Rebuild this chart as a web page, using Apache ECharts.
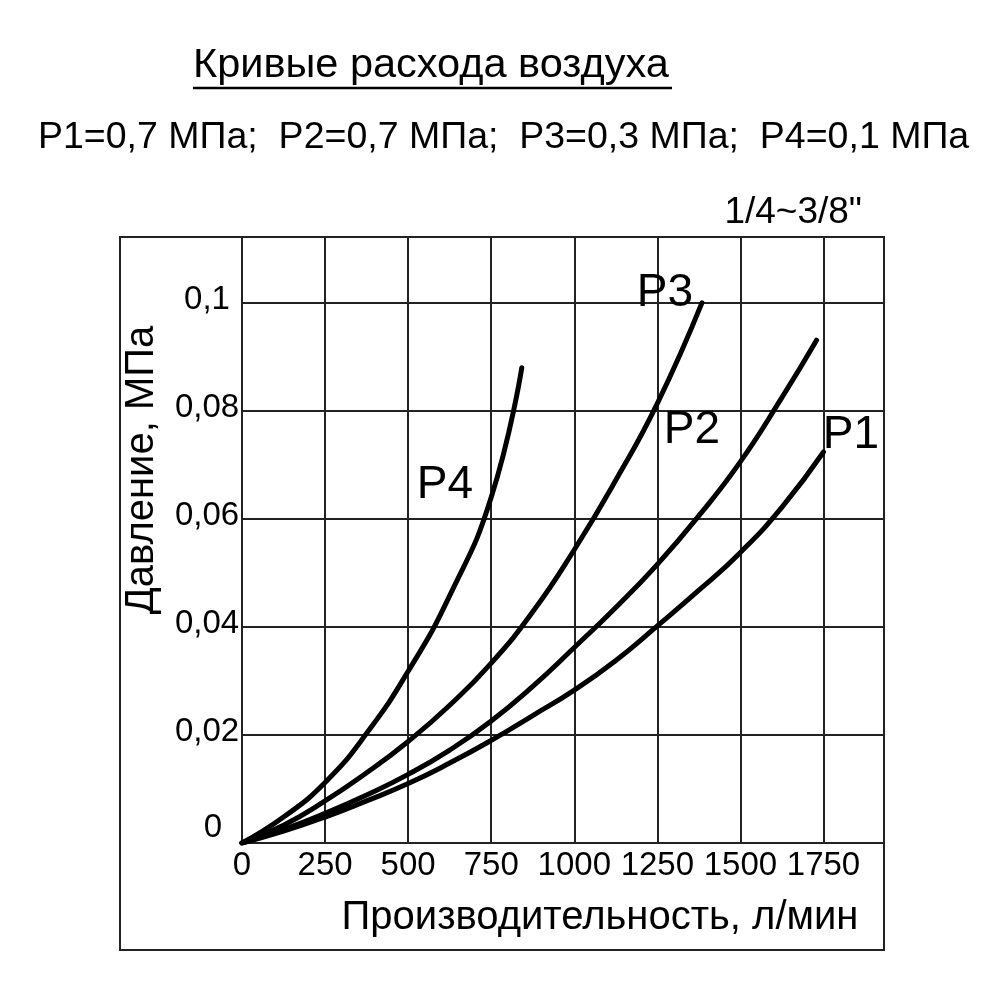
<!DOCTYPE html>
<html><head><meta charset="utf-8">
<script src="https://cdn.jsdelivr.net/npm/echarts@6/dist/echarts.min.js"></script>
<style>html,body{margin:0;padding:0;background:#fff}#c{width:1000px;height:1000px}</style>
</head><body><div id="c"></div>
<script>
const titleText = 'Кривые расхода воздуха';
const subtitleText = 'P1=0,7 МПа;  P2=0,7 МПа;  P3=0,3 МПа;  P4=0,1 МПа';
const sizeText = '1/4~3/8"';
const xAxisName = 'Производительность, л/мин';
const yAxisName = 'Давление, МПа';
const xTickValues = [0, 250, 500, 750, 1000, 1250, 1500, 1750];
const yTickLabels = ['0', '0,02', '0,04', '0,06', '0,08', '0,1'];
const seriesNames = ['P1', 'P2', 'P3', 'P4'];
const p1 = [[0,0],[125,0.0022],[250,0.0048],[375,0.0078],[500,0.011],[625,0.0148],[750,0.019],[875,0.0236],[1000,0.0283],[1125,0.0338],[1250,0.0402],[1375,0.0468],[1500,0.0538],[1625,0.0622],[1750,0.0724]];
const p2 = [[0,0],[125,0.0025],[250,0.0055],[375,0.0089],[500,0.0127],[625,0.0172],[750,0.0226],[875,0.029],[1000,0.0362],[1125,0.0436],[1250,0.0516],[1375,0.0606],[1500,0.0706],[1625,0.0825],[1729,0.0931]];
const p3 = [[0,0],[125,0.0033],[250,0.0078],[375,0.013],[500,0.0188],[625,0.0255],[750,0.0333],[875,0.0428],[1000,0.0543],[1125,0.0672],[1250,0.0814],[1384,0.1]];
const p4 = [[0,0],[125,0.0048],[250,0.0112],[375,0.0203],[500,0.0318],[625,0.0458],[750,0.064],[842,0.088]];
const seriesData = [p1, p2, p3, p4];

const FONT = '"Liberation Sans", Arial, sans-serif';
const chart = echarts.init(document.getElementById('c'), null, {renderer: 'canvas'});
const labelPos = [[851, 435], [692, 430], [665, 293], [445, 485]];

chart.setOption({
  animation: false,
  backgroundColor: '#fff',
  title: [
    {text: titleText, left: 193, top: 45, padding: 0, textStyle: {fontFamily: FONT, fontSize: 41.5, fontWeight: 'normal', color: '#000'}},
    {text: subtitleText, left: 38, top: 119, padding: 0, textStyle: {fontFamily: FONT, fontSize: 37.5, fontWeight: 'normal', color: '#000'}}
  ],
  grid: {left: 242, top: 237, right: 116, bottom: 157, outerBoundsMode: 'none', containLabel: false},
  xAxis: {
    type: 'value', min: 0, max: 1932, interval: 250,
    name: xAxisName, nameLocation: 'middle', nameGap: 55,
    nameTextStyle: {fontFamily: FONT, fontSize: 40, color: '#000', padding: [0, 0, 0, 74]},
    axisLine: {show: true, lineStyle: {color: '#222', width: 2}},
    axisTick: {show: false},
    splitLine: {show: true, lineStyle: {color: '#222', width: 2}},
    axisLabel: {
      showMaxLabel: false, margin: 6, fontFamily: FONT, fontSize: 33, color: '#000',
      formatter: v => xTickValues.includes(v) ? String(v) : ''
    }
  },
  yAxis: {
    type: 'value', min: 0, max: 0.1122, interval: 0.02,
    name: yAxisName, nameLocation: 'middle', nameGap: 80, nameRotate: 90,
    nameTextStyle: {fontFamily: FONT, fontSize: 40, color: '#000', padding: [0, 0, 0, 140]},
    axisLine: {show: true, lineStyle: {color: '#222', width: 2}},
    axisTick: {show: false},
    splitLine: {show: true, lineStyle: {color: '#222', width: 2}},
    axisLabel: {
      showMaxLabel: false, margin: 35, align: 'center', fontFamily: FONT, fontSize: 33, color: '#000',
      formatter: v => {
        const i = Math.round(v / 0.02);
        const s = yTickLabels[i] || '';
        return i === 0 ? '{z|' + s + '}' : '{n|' + s + '}';
      },
      rich: {
        z: {fontFamily: FONT, fontSize: 33, color: '#000', padding: [0, 0, 30, 12]},
        n: {fontFamily: FONT, fontSize: 33, color: '#000', padding: [0, 0, 6, 0]}
      }
    }
  },
  series: seriesData.map((d, i) => ({
    name: seriesNames[i], type: 'line', data: d, smooth: 0.5,
    showSymbol: false, symbol: 'none',
    lineStyle: {color: '#000', width: 5, cap: 'round', join: 'round'}
  })),
  graphic: [
    {type: 'rect', shape: {x: 120, y: 237, width: 764, height: 713}, style: {fill: 'none', stroke: '#222', lineWidth: 2}, z: 10},
    {type: 'line', shape: {x1: 193, y1: 88, x2: 672, y2: 88}, style: {stroke: '#000', lineWidth: 2.5}},
    {type: 'text', x: 862, y: 213, style: {text: sizeText, fontFamily: FONT, fontSize: 37, fill: '#000', textAlign: 'right', textVerticalAlign: 'middle'}},
    ...seriesNames.map((n, i) => ({
      type: 'text', x: labelPos[i][0], y: labelPos[i][1], z: 20,
      style: {text: n, fontFamily: FONT, fontSize: 46, fill: '#000', textAlign: 'center', textVerticalAlign: 'middle'}
    }))
  ]
});
</script></body></html>
